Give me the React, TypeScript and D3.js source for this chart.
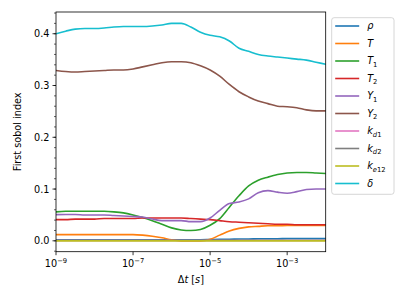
import { useEffect, useRef } from 'react'
import * as d3 from 'd3'

// log10 of the time step
const logDt = [-9, -8.75, -8.5, -8.25, -8, -7.75, -7.5, -7.25, -7, -6.75, -6.5, -6.25, -6, -5.75, -5.5,
  -5.25, -5, -4.75, -4.5, -4.25, -4, -3.75, -3.5, -3.25, -3, -2.75, -2.5, -2.25, -2]

const rho = [0.002, 0.002, 0.002, 0.002, 0.002, 0.002, 0.002, 0.002, 0.002, 0.002, 0.002, 0.002, 0.002, 0.002, 0.002,
  0.002, 0.0025, 0.003, 0.003, 0.0035, 0.0035, 0.004, 0.004, 0.004, 0.0045, 0.0045, 0.0045, 0.0045, 0.0045]
const T = [0.012, 0.012, 0.012, 0.012, 0.012, 0.012, 0.012, 0.012, 0.012, 0.011, 0.009, 0.006, 0.002, 0.0, 0.0,
  0.0, 0.003, 0.011, 0.019, 0.024, 0.027, 0.028, 0.029, 0.029, 0.0295, 0.0295, 0.0295, 0.0295, 0.0295]
const T1 = [0.056, 0.057, 0.057, 0.057, 0.057, 0.057, 0.056, 0.054, 0.05, 0.045, 0.039, 0.032, 0.025, 0.021, 0.02,
  0.022, 0.03, 0.043, 0.065, 0.087, 0.106, 0.117, 0.123, 0.128, 0.131, 0.132, 0.132, 0.131, 0.13]
const T2 = [0.041, 0.041, 0.042, 0.042, 0.042, 0.043, 0.043, 0.043, 0.043, 0.044, 0.044, 0.044, 0.044, 0.044, 0.043,
  0.042, 0.041, 0.039, 0.037, 0.036, 0.035, 0.034, 0.033, 0.032, 0.032, 0.031, 0.031, 0.031, 0.031]
const Y1 = [0.0507, 0.051, 0.051, 0.05, 0.05, 0.05, 0.049, 0.048, 0.047, 0.046, 0.042, 0.039, 0.039, 0.039, 0.037,
  0.037, 0.044, 0.059, 0.072, 0.075, 0.081, 0.093, 0.097, 0.094, 0.092, 0.095, 0.099, 0.1, 0.1]
const Y2 = [0.329, 0.327, 0.326, 0.327, 0.328, 0.329, 0.33, 0.33, 0.332, 0.336, 0.34, 0.344, 0.346, 0.346, 0.344,
  0.338, 0.33, 0.318, 0.302, 0.288, 0.278, 0.27, 0.265, 0.26, 0.259, 0.257, 0.253, 0.251, 0.251]
const kd1 = [0.0005, 0.0005, 0.0005, 0.0005, 0.0005, 0.0005, 0.0005, 0.0005, 0.0005, 0.0005, 0.0005, 0.0005, 0.0005, 0.0005, 0.0005,
  0.0005, 0.0005, 0.0005, 0.0005, 0.0005, 0.0005, 0.0005, 0.0005, 0.0005, 0.0005, 0.0005, 0.0005, 0.0005, 0.0005]
const kd2 = [0.001, 0.001, 0.001, 0.001, 0.001, 0.001, 0.001, 0.001, 0.001, 0.001, 0.001, 0.001, 0.001, 0.001, 0.001,
  0.001, 0.001, 0.001, 0.001, 0.001, 0.001, 0.001, 0.001, 0.001, 0.001, 0.001, 0.001, 0.001, 0.001]
const ke12 = [0, 0, 0, 0, 0, 0, 0, 0, 0, 0, 0, 0, 0, 0, 0, 0, 0, 0, 0, 0, 0, 0, 0, 0, 0, 0, 0, 0, 0]
const delta = [0.4, 0.405, 0.409, 0.41, 0.41, 0.411, 0.413, 0.414, 0.414, 0.414, 0.415, 0.417, 0.42, 0.42, 0.413,
  0.403, 0.397, 0.394, 0.386, 0.372, 0.366, 0.36, 0.357, 0.355, 0.353, 0.351, 0.349, 0.345, 0.341]

const xTicks = [-9, -7, -5, -3]
const yTicks = [0, 0.1, 0.2, 0.3, 0.4]

// label parts: [text, italic, subscript]
const series = [
  { label: [['ρ', true, false]], color: '#1f77b4', values: rho },
  { label: [['T', true, false]], color: '#ff7f0e', values: T },
  { label: [['T', true, false], ['1', false, true]], color: '#2ca02c', values: T1 },
  { label: [['T', true, false], ['2', false, true]], color: '#d62728', values: T2 },
  { label: [['Y', true, false], ['1', false, true]], color: '#9467bd', values: Y1 },
  { label: [['Y', true, false], ['2', false, true]], color: '#8c564b', values: Y2 },
  { label: [['k', true, false], ['d', true, true], ['1', false, true]], color: '#e377c2', values: kd1 },
  { label: [['k', true, false], ['d', true, true], ['2', false, true]], color: '#7f7f7f', values: kd2 },
  { label: [['k', true, false], ['e', true, true], ['12', false, true]], color: '#bcbd22', values: ke12 },
  { label: [['δ', true, false]], color: '#17becf', values: delta }
]

const App = () => {
  const svgRef = useRef(null)
  const W = 407
  const H = 305
  const margin = { top: 12, right: 81.3, bottom: 53.3, left: 56 }
  const width = W - margin.left - margin.right
  const height = H - margin.top - margin.bottom
  const font = 'DejaVu Sans'
  const fs = 9.7

  useEffect(() => {
    const svg = d3.select(svgRef.current)
    svg.selectAll('*').remove()

    const xScale = d3.scaleLinear().domain([-9, -2]).range([0, width])
    const yScale = d3.scaleLinear().domain([-0.021, 0.442]).range([height, 0])

    const g = svg.append('g').attr('transform', `translate(${margin.left},${margin.top})`)

    const line = d3.line()
      .x((d, i) => xScale(logDt[i]))
      .y(d => yScale(d))
      .curve(d3.curveMonotoneX)

    const clip = g.append('clipPath').attr('id', 'clip')
    clip.append('rect').attr('width', width).attr('height', height)

    series.forEach(s => {
      g.append('path')
        .datum(s.values)
        .attr('clip-path', 'url(#clip)')
        .attr('fill', 'none')
        .attr('stroke', s.color)
        .attr('stroke-width', 1.6)
        .attr('stroke-linejoin', 'round')
        .attr('stroke-linecap', 'square')
        .attr('d', line)
    })

    // frame
    g.append('rect')
      .attr('width', width)
      .attr('height', height)
      .attr('fill', 'none')
      .attr('stroke', 'black')
      .attr('stroke-width', 0.8)

    // x ticks
    xTicks.forEach(t => {
      const x = xScale(t)
      g.append('line')
        .attr('x1', x).attr('x2', x)
        .attr('y1', height).attr('y2', height + 3.5)
        .attr('stroke', 'black').attr('stroke-width', 0.8)
      const txt = g.append('text')
        .attr('x', x)
        .attr('y', height + 15.5)
        .attr('text-anchor', 'middle')
        .style('font-family', font)
        .style('font-size', `${fs}px`)
      txt.append('tspan').text('10')
      txt.append('tspan')
        .attr('dy', -4)
        .style('font-size', `${fs * 0.7}px`)
        .text(`\u2212${-t}`)
    })

    // y ticks
    d3.range(-0.02, 0.4401, 0.02).forEach(v => {
      const y = yScale(v)
      g.append('line')
        .attr('x1', -2).attr('x2', 0)
        .attr('y1', y).attr('y2', y)
        .attr('stroke', 'black').attr('stroke-width', 0.6)
    })
    yTicks.forEach(v => {
      const y = yScale(v)
      g.append('line')
        .attr('x1', -3.5).attr('x2', 0)
        .attr('y1', y).attr('y2', y)
        .attr('stroke', 'black').attr('stroke-width', 0.8)
      g.append('text')
        .attr('x', -6.5)
        .attr('y', y)
        .attr('dy', '0.36em')
        .attr('text-anchor', 'end')
        .style('font-family', font)
        .style('font-size', `${fs}px`)
        .text(v.toFixed(1))
    })

    // axis labels
    const xl = g.append('text')
      .attr('x', width / 2)
      .attr('y', height + 31)
      .attr('text-anchor', 'middle')
      .style('font-family', font)
      .style('font-size', `${fs}px`)
    xl.append('tspan').text('Δ')
    xl.append('tspan').style('font-style', 'italic').text('t')
    xl.append('tspan').text(' [')
    xl.append('tspan').style('font-style', 'italic').text('s')
    xl.append('tspan').text(']')

    g.append('text')
      .attr('transform', 'rotate(-90)')
      .attr('x', -height / 2)
      .attr('y', -35.5)
      .attr('text-anchor', 'middle')
      .style('font-family', font)
      .style('font-size', `${fs}px`)
      .text('First sobol index')

    // legend
    const legend = svg.append('g').attr('transform', 'translate(331.7,17.7)')
    legend.append('rect')
      .attr('width', 62.3)
      .attr('height', 176.6)
      .attr('rx', 2.5)
      .attr('fill', 'white')
      .attr('fill-opacity', 0.8)
      .attr('stroke', '#cccccc')
      .attr('stroke-width', 0.8)

    series.forEach((s, i) => {
      const y = 8.3 + i * 17.5
      legend.append('line')
        .attr('x1', 3.5).attr('x2', 27.5)
        .attr('y1', y).attr('y2', y)
        .attr('stroke', s.color)
        .attr('stroke-width', 1.6)
      const txt = legend.append('text')
        .attr('x', 35.5)
        .attr('y', y + 3.5)
        .style('font-family', font)
        .style('font-size', `${fs}px`)
      let shifted = false
      s.label.forEach(([t, it, sub]) => {
        const sp = txt.append('tspan').text(t)
        if (it) sp.style('font-style', 'italic')
        if (sub) {
          sp.style('font-size', `${fs * 0.7}px`)
          if (!shifted) { sp.attr('dy', 2.5); shifted = true }
        }
      })
    })
  }, [])

  return (
    <svg ref={svgRef} width={W} height={H}
      style={{ position: 'absolute', left: 0, top: 0, background: 'white' }} />
  )
}

export default App
